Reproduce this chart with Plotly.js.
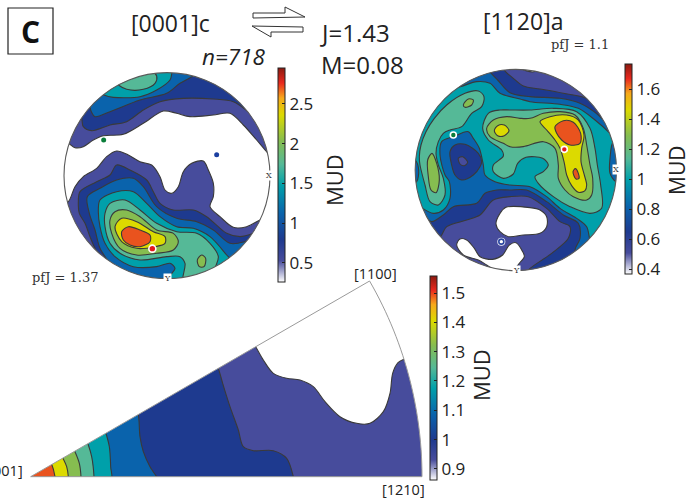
<!DOCTYPE html>
<html><head><meta charset="utf-8">
<script src="https://cdn.plot.ly/plotly-3.0.1.min.js"></script>
<style>html,body{margin:0;padding:0;background:#fff}#c{width:692px;height:499px}</style>
</head><body><div id="c"></div>
<script>
// Contour level colours (low to high MUD)
const INDIGO='#474C9C',DARK='#1E3A8F',BLUE='#0A63AC',TEAL='#00A0AA',GTEAL='#55B997',GREEN='#86BD50',YELLOW='#DCDA00',ORANGE='#E9531E',WHITE='#FFFFFF';
const colorscale=[[0,'#ffffff'],[.1,'#474C9C'],[.2,'#1E3A8F'],[.32,'#0A63AC'],[.45,'#00A0AA'],[.55,'#55B997'],[.66,'#86BD50'],[.78,'#DCDA00'],[.86,'#F7A81B'],[.93,'#E9281E'],[1,'#8B1A10']];

// ---- Pole figure [0001]c: contour outlines in projection units ----
const c_indigoTop=[[175,420],[205,430],[225,443],[250,440],[280,420],[310,407],[370,403],[430,370],[490,333],[530,340],[570,350],[640,345],[690,340],[730,375],[770,420],[800,455],[825,480],[830,300],[600,205],[300,205]];
const c_darkTop=[[225,340],[243,347],[250,380],[275,392],[330,375],[380,365],[430,330],[480,305],[550,295],[640,297],[700,305],[745,335],[775,360],[790,300],[600,205],[300,205]];
const c_blueTop=[[250,290],[268,305],[272,330],[285,350],[330,335],[420,300],[500,280],[540,250],[580,228],[610,210],[400,205],[300,230]];
const c_tealTop=[[290,270],[312,285],[340,292],[420,290],[470,270],[510,240],[515,222],[515,205],[400,205],[330,230]];
const c_gtealTop=[[340,240],[355,255],[380,268],[430,268],[465,250],[470,228],[455,212],[400,212]];
const c_indigoLow=[[175,620],[205,605],[225,560],[250,530],[290,505],[320,470],[350,453],[385,465],[420,485],[455,495],[480,530],[495,570],[515,580],[535,560],[550,515],[575,490],[610,483],[625,510],[640,550],[640,590],[630,620],[660,650],[700,682],[740,680],[780,660],[825,640],[825,850],[175,850]];
const c_darkLow=[[300,775],[285,745],[270,710],[255,670],[238,640],[235,610],[240,575],[290,545],[330,525],[350,495],[390,510],[440,540],[460,575],[480,610],[520,630],[580,630],[620,650],[680,700],[720,710],[760,700],[800,680],[815,850],[320,850]];
const c_blueLow=[[330,795],[300,745],[285,690],[268,640],[262,590],[300,565],[350,540],[400,535],[430,560],[470,620],[530,655],[590,665],[640,690],[690,730],[735,725],[770,710],[780,850],[340,850]];
const c_tealLow=[[295,630],[300,600],[350,575],[400,575],[440,610],[480,650],[530,680],[580,685],[630,710],[680,765],[700,790],[700,850],[525,850],[510,830],[525,805],[510,790],[470,800],[400,800],[345,770],[315,730],[300,680]];
const c_gtealLow=[[315,640],[330,610],[375,600],[420,630],[470,670],[530,695],[590,700],[630,730],[655,770],[645,805],[635,850],[550,850],[555,790],[540,770],[500,770],[420,780],[360,760],[330,730],[315,680]];
const c_green=[[330,660],[345,635],[380,630],[420,650],[470,690],[520,700],[535,725],[520,750],[470,760],[410,765],[360,745],[335,700]];
const c_greenIsland=[[592,780],[605,765],[617,775],[612,800],[598,800]];
const c_yellow=[[345,680],[365,655],[410,665],[460,695],[495,710],[495,730],[465,740],[410,745],[365,725]];
const c_orange=[[365,695],[385,680],[420,690],[450,705],[450,725],[420,740],[390,735],[370,720]];
const c_ptX=[311,650,457],c_ptY=[420,464,746];

// ---- Pole figure [1120]a ----
const a_all=[[190,190],[830,190],[830,830],[190,830]];
const a_whiteMid=[[450,672],[462,640],[480,622],[552,623],[582,630],[602,650],[602,680],[582,700],[532,705],[487,710],[462,695]];
const a_whiteLow=[[332,735],[342,717],[362,720],[385,745],[402,770],[440,778],[470,765],[490,735],[510,728],[530,755],[535,770],[520,790],[505,808],[497,815],[447,810],[422,795],[397,780],[352,765]];
const a_whiteTop=[[530,208],[555,205],[585,208],[560,216]];
const a_dark=[[475,195],[475,210],[502,235],[532,258],[582,267],[652,280],[722,295],[740,310],[825,310],[825,825],[540,825],[547,810],[617,760],[667,715],[672,680],[642,665],[602,625],[547,590],[492,590],[442,600],[402,645],[362,660],[302,680],[287,705],[270,725],[195,725],[195,195]];
const a_blue=[[415,195],[430,214],[455,240],[492,278],[552,290],[642,295],[702,310],[757,345],[777,365],[800,385],[825,400],[825,720],[700,775],[687,750],[702,715],[697,670],[652,645],[602,605],[542,570],[492,570],[452,570],[417,580],[392,610],[322,620],[292,645],[257,665],[235,650],[195,640],[195,300]];
const a_teal=[[315,255],[332,262],[392,245],[432,250],[462,280],[522,297],[552,305],[642,313],[697,325],[747,360],[792,400],[815,425],[825,450],[825,700],[745,745],[732,720],[722,680],[692,655],[642,625],[602,590],[552,560],[492,555],[447,545],[417,525],[412,495],[400,445],[382,415],[367,395],[322,410],[287,425],[282,465],[297,525],[310,545],[312,595],[292,630],[262,640],[222,620],[195,600],[195,300]];
const a_gtealMid=[[462,330],[427,340],[410,385],[427,420],[467,450],[472,468],[442,495],[442,515],[472,535],[502,522],[515,490],[540,472],[590,475],[607,495],[592,515],[567,530],[577,550],[622,590],[672,620],[732,640],[767,625],[764,555],[754,495],[747,445],[732,385],[692,335],[622,325],[552,330],[492,330]];
const a_gtealLeft=[[222,495],[220,470],[225,435],[240,395],[265,355],[302,315],[357,280],[397,273],[414,290],[407,320],[377,340],[347,380],[312,390],[292,400],[277,425],[270,460],[277,495],[292,535],[297,585],[277,615],[252,605],[237,555]];
const a_greenMid=[[422,385],[442,360],[482,350],[522,355],[552,355],[592,340],[642,335],[687,345],[712,385],[722,435],[732,495],[740,535],[737,585],[722,600],[682,590],[657,570],[637,535],[637,495],[627,445],[592,425],[532,440],[492,440],[472,430],[432,410]];
const a_greenLeft=[[245,480],[258,460],[272,490],[280,540],[270,578],[255,570],[247,530]];
const a_greenSmall=[[352,315],[367,297],[382,300],[377,315],[357,322]];
const a_yellowMain=[[582,365],[612,350],[662,345],[697,360],[714,405],[707,445],[705,485],[715,525],[722,555],[717,572],[697,577],[677,557],[662,525],[654,485],[642,445],[627,420],[602,390]];
const a_yellowSmall=[[445,392],[455,377],[475,375],[489,392],[475,407],[455,407]];
const a_orangeMain=[[627,380],[652,362],[682,367],[704,400],[702,430],[672,435],[647,420],[632,400]];
const a_orangeSmall=[[681,515],[688,506],[697,520],[699,535],[690,537]];
const a_blueX=[[802,425],[792,475],[792,520],[810,545],[825,540],[825,430]];
const a_blueLeft=[[197,475],[208,480],[218,510],[212,545],[197,550]];
const a_darkHole=[[312,455],[327,435],[357,433],[397,460],[407,485],[402,500],[382,525],[347,540],[327,525],[317,495]];
const a_indigoHole=[[337,475],[350,470],[365,487],[355,497],[342,492]];
const a_ptX=[322,655],a_ptY=[405,448];
const a_ringX=[466],a_ringY=[725];

// ---- Inverse pole figure (fundamental sector) ----
const s_indigo=[[745,225],[767,260],[790,300],[820,340],[860,355],[900,360],[940,380],[975,425],[1020,470],[1070,490],[1110,490],[1150,455],[1170,400],[1178,340],[1194,308],[1212,298],[1240,290],[1285,300],[1285,660],[62,660],[62,640],[400,330]];
const s_dark=[[640,290],[655,325],[668,370],[690,440],[715,510],[730,560],[760,572],[820,572],[860,595],[880,650],[882,662],[62,662],[62,640],[400,330]];
const s_blue=[[405,440],[415,465],[420,530],[430,575],[450,620],[470,650],[478,662],[62,662],[62,640],[300,420]];
const s_teal=[[310,495],[318,520],[328,560],[332,620],[332,662],[62,662],[62,640],[200,490]];
const s_gteal=[[255,530],[264,552],[275,590],[282,650],[282,662],[62,662],[62,640],[150,525]];
const s_green=[[215,555],[225,575],[238,610],[243,650],[243,662],[62,662],[62,640],[150,545]];
const s_yellow=[[180,580],[190,597],[200,620],[205,650],[205,662],[62,662],[62,640],[130,570]];
const s_orange=[[147,600],[155,613],[165,650],[166,662],[62,662],[62,640],[110,590]];

// Tick values of the three colour bars
const ticksC=[0.5,1,1.5,2,2.5],ticksA=[0.4,0.6,0.8,1,1.2,1.4,1.6],ticksS=[0.9,1,1.1,1.2,1.3,1.4,1.5];
const rangeC=[0.26,2.95],rangeA=[0.367,1.767],rangeS=[0.862,1.558];

const W=692,H=499,LINE='#3a3a3a';
const px=x=>x/W,py=y=>1-y/H;
function poly(pts,color,ax,line){
  const xs=pts.map(p=>p[0]),ys=pts.map(p=>p[1]);xs.push(pts[0][0]);ys.push(pts[0][1]);
  return {type:'scatter',mode:line===false?'none':'lines',x:xs,y:ys,xaxis:'x'+ax,yaxis:'y'+ax,fill:'toself',fillcolor:color,
    line:{color:LINE,width:1.1,shape:'spline',smoothing:0.9,simplify:false},hoverinfo:'skip',showlegend:false};
}
function bar(ax,range,ticks,x,y,h){
  return {type:'scatter',mode:'markers',x:[0],y:[0],xaxis:'x'+ax,yaxis:'y'+ax,hoverinfo:'skip',showlegend:false,
    marker:{size:1,opacity:0,color:[range[0]],cmin:range[0],cmax:range[1],colorscale:colorscale,showscale:true,
      colorbar:{x:px(x),xanchor:'left',y:py(y),yanchor:'top',len:h,lenmode:'pixels',thickness:7,thicknessmode:'pixels',xpad:0,ypad:0,
        tickvals:ticks,ticktext:ticks.map(String),ticks:'inside',ticklen:3,tickcolor:'#222',tickwidth:1,outlinecolor:'#222',outlinewidth:1,
        tickfont:{family:'"Open Sans"',size:17,color:'#222'},ticklabelpadding:2}}};
}
const traces=[
 poly(c_indigoTop,INDIGO,''),poly(c_darkTop,DARK,''),poly(c_blueTop,BLUE,''),poly(c_tealTop,TEAL,''),poly(c_gtealTop,GTEAL,''),
 poly(c_indigoLow,INDIGO,''),poly(c_darkLow,DARK,''),poly(c_blueLow,BLUE,''),poly(c_tealLow,TEAL,''),poly(c_gtealLow,GTEAL,''),
 poly(c_green,GREEN,''),poly(c_greenIsland,GREEN,''),poly(c_yellow,YELLOW,''),poly(c_orange,ORANGE,''),
 {type:'scatter',mode:'markers',x:c_ptX,y:c_ptY,hoverinfo:'skip',showlegend:false,
  marker:{opacity:1,size:[5,5,7],color:['#0b7d3a','#1b3fa0','#e3191c'],line:{color:['#0b7d3a','#1b3fa0','#fff'],width:[0,0,1.6]}}},
 bar('',rangeC,ticksC,278,68,214),

 poly(a_all,INDIGO,'2',false),poly(a_whiteMid,WHITE,'2'),poly(a_whiteLow,WHITE,'2'),poly(a_whiteTop,WHITE,'2'),
 poly(a_dark,DARK,'2'),poly(a_blue,BLUE,'2'),poly(a_teal,TEAL,'2'),poly(a_gtealMid,GTEAL,'2'),poly(a_gtealLeft,GTEAL,'2'),
 poly(a_greenMid,GREEN,'2'),poly(a_greenLeft,GREEN,'2'),poly(a_greenSmall,GREEN,'2'),
 poly(a_yellowMain,YELLOW,'2'),poly(a_yellowSmall,YELLOW,'2'),poly(a_orangeMain,ORANGE,'2'),poly(a_orangeSmall,ORANGE,'2'),
 poly(a_blueX,BLUE,'2'),poly(a_blueLeft,BLUE,'2'),poly(a_darkHole,DARK,'2'),poly(a_indigoHole,INDIGO,'2'),
 {type:'scatter',mode:'markers',x:a_ptX,y:a_ptY,xaxis:'x2',yaxis:'y2',hoverinfo:'skip',showlegend:false,
  marker:{opacity:1,size:6,color:['#0b7d3a','#e3191c'],line:{color:'#fff',width:1.6}}},
 {type:'scatter',mode:'markers',x:a_ringX,y:a_ringY,xaxis:'x2',yaxis:'y2',hoverinfo:'skip',showlegend:false,
  marker:{opacity:1,size:8,color:'#ffffff',line:{color:'#ffffff',width:0}}},
 {type:'scatter',mode:'markers',x:a_ringX,y:a_ringY,xaxis:'x2',yaxis:'y2',hoverinfo:'skip',showlegend:false,
  marker:{opacity:1,size:5,color:'#ffffff',line:{color:'#2a46a0',width:1.6}}},
 bar('2',rangeA,ticksA,625,64,210),

 poly(s_indigo,INDIGO,'3'),poly(s_dark,DARK,'3'),poly(s_blue,BLUE,'3'),poly(s_teal,TEAL,'3'),poly(s_gteal,GTEAL,'3'),poly(s_green,GREEN,'3'),poly(s_yellow,YELLOW,'3'),poly(s_orange,ORANGE,'3'),
 bar('3',rangeS,ticksS,430,276,204)
];

// Masks + outlines
function discMask(cx,cy,R,xr,yr){
  const B=500;
  let d=`M${cx-B},${cy-B} L${cx+B},${cy-B} L${cx+B},${cy+B} L${cx-B},${cy+B} Z `;
  for(let i=0;i<=180;i++){const t=-i*2*Math.PI/180;d+=(i?'L':'M')+(cx+R*Math.cos(t))+','+(cy+R*Math.sin(t))+' ';}
  return [{type:'path',path:d+'Z',xref:xr,yref:yr,fillcolor:'#fff',line:{width:0},layer:'above'},
    {type:'circle',xref:xr,yref:yr,x0:cx-R,x1:cx+R,y0:cy-R,y1:cy+R,line:{color:'#5a5a5a',width:1.1},fillcolor:'rgba(0,0,0,0)',layer:'above'}];
}
function sectorShapes(){
  const ax=92,ay=650,R=1174;let arc=[];
  for(let i=0;i<=30;i++){const t=i*Math.PI/180;arc.push([ax+R*Math.cos(t),ay-R*Math.sin(t)]);}
  let d=`M-200,-200 L1600,-200 L1600,900 L-200,900 Z M${ax},${ay} `;
  arc.forEach(p=>{d+=`L${p[0]},${p[1]} `;});
  d+='Z';
  let o=`M${ax},${ay} `;arc.forEach(p=>{o+=`L${p[0]},${p[1]} `;});o+='Z';
  return [{type:'path',path:d,xref:'x3',yref:'y3',fillcolor:'#fff',line:{width:0},layer:'above'},
   {type:'path',path:o,xref:'x3',yref:'y3',fillcolor:'rgba(0,0,0,0)',line:{color:'#9a9a9a',width:1},layer:'above'}];
}
const pp=(pts)=>'M'+pts.map(p=>px(p[0])+','+py(p[1])).join(' L')+' Z';
const shapes=[
 ...discMask(501,527,309,'x','y'),
 ...discMask(509.5,510,302,'x2','y2'),
 ...sectorShapes(),
 {type:'rect',xref:'paper',yref:'paper',x0:px(8),x1:px(53),y0:py(54),y1:py(8),line:{color:'#222',width:1.2},fillcolor:'#fff'},
 {type:'path',xref:'paper',yref:'paper',path:pp([[253,13],[285,13],[285,7],[305,17],[253,18]]),line:{color:'#333',width:1},fillcolor:'#fff'},
 {type:'path',xref:'paper',yref:'paper',path:pp([[252,26],[303,27],[303,32],[271,32],[271,37]]),line:{color:'#333',width:1},fillcolor:'#fff'}
];

const SANS='"Open Sans"',SERIF='"DejaVu Serif"';
function ann(text,x,y,size,extra){
  return Object.assign({text,x:px(x),y:py(y),xref:'paper',yref:'paper',showarrow:false,xanchor:'center',yanchor:'middle',
    font:{family:SANS,size,color:'#222'},borderpad:0},extra||{});
}
const annotations=[
 ann('<b>C</b>',30,32,30,{font:{family:SANS,size:30,color:'#111'}}),
 ann('[0001]c',170,23,23),
 ann('<i>n=718</i>',234,56,22.5),
 ann('J=1.43',319,33,24,{xanchor:'left'}),
 ann('M=0.08',320,64,24,{xanchor:'left'}),
 ann('[1120]a',523,21,23),
 ann('pfJ = 1.1',580,45,13,{font:{family:SERIF,size:13,color:'#333'}}),
 ann('pfJ = 1.37',65,277,13,{font:{family:SERIF,size:13,color:'#333'}}),
 ann('X',269,175,7,{font:{family:SERIF,size:8,color:'#333'},bgcolor:'#fff'}),
 ann('Y',167,278,7,{font:{family:SERIF,size:8,color:'#333'},bgcolor:'#fff'}),
 ann('X',616,169,7,{font:{family:SERIF,size:8,color:'#333'},bgcolor:'#fff'}),
 ann('Y',516,270,7,{font:{family:SERIF,size:8,color:'#333'},bgcolor:'#fff'}),
 ann('[1100]',375,273,14.5),
 ann('[1210]',403,489,14.5),
 ann('[0001]',24,470,14.5,{xanchor:'right'}),
 ann('MUD',334,180,22,{textangle:-90}),
 ann('MUD',677,171,21,{textangle:-90}),
 ann('MUD',481,375,22,{textangle:-90})
];
const hid={visible:false,fixedrange:true};
const layout={width:W,height:H,margin:{l:0,r:0,t:0,b:0},paper_bgcolor:'#fff',plot_bgcolor:'#fff',showlegend:false,
 xaxis:{...hid,range:[180,825],domain:[px(60),px(275)],anchor:'y'},
 yaxis:{...hid,range:[837,204],domain:[py(279),py(68)],anchor:'x'},
 xaxis2:{...hid,range:[189,831],domain:[px(409),px(623)],anchor:'y2'},
 yaxis2:{...hid,range:[831,189],domain:[py(277),py(63)],anchor:'x2'},
 xaxis3:{...hid,range:[39,1302],domain:[px(13),px(434)],anchor:'y3'},
 yaxis3:{...hid,range:[681,57],domain:[py(487),py(279)],anchor:'x3'},
 shapes,annotations};
Plotly.newPlot('c',traces,layout,{displayModeBar:false,staticPlot:true});
</script></body></html>
